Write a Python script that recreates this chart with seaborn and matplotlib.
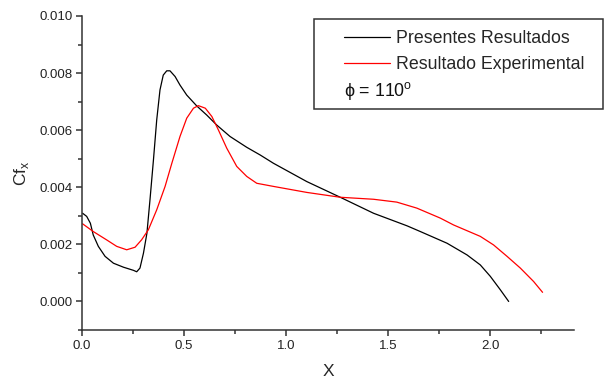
import pandas as pd
import matplotlib
matplotlib.use("Agg")
import matplotlib.pyplot as plt
from matplotlib.patches import Rectangle
from matplotlib.ticker import MultipleLocator
import seaborn as sns

sns.set_style("ticks")
plt.rcParams["font.family"] = ["Liberation Sans", "DejaVu Sans"]
plt.rcParams["mathtext.fontset"] = "custom"
plt.rcParams["mathtext.rm"] = "Liberation Sans"

# Presentes Resultados (black)
x_pres = [0.003, 0.023, 0.041, 0.055, 0.08, 0.113, 0.154, 0.203, 0.252, 0.268,
          0.284, 0.301, 0.318, 0.333, 0.35, 0.366, 0.382, 0.398, 0.415, 0.431,
          0.456, 0.48, 0.513, 0.562, 0.611, 0.66, 0.725, 0.807, 0.873, 0.938,
          1.101, 1.265, 1.428, 1.592, 1.657, 1.788, 1.886, 1.951, 2.0, 2.049, 2.09]
y_pres = [0.00309, 0.00298, 0.00274, 0.00233, 0.00193, 0.00158, 0.00134, 0.0012, 0.00109, 0.00104,
          0.00117, 0.00169, 0.00239, 0.00356, 0.00496, 0.00636, 0.00741, 0.00793, 0.00808, 0.00808,
          0.00788, 0.00758, 0.00723, 0.00685, 0.00653, 0.00618, 0.00578, 0.0054, 0.00513, 0.00484,
          0.0042, 0.00365, 0.00309, 0.00265, 0.00245, 0.00204, 0.00163, 0.00128, 0.00088, 0.00041, 0.0]

# Resultado Experimental (red)
x_exp = [0.003, 0.055, 0.12, 0.17, 0.219, 0.26, 0.292, 0.325, 0.366, 0.407,
         0.44, 0.48, 0.513, 0.546, 0.57, 0.604, 0.636, 0.668, 0.709, 0.758,
         0.807, 0.856, 0.938, 1.101, 1.265, 1.428, 1.542, 1.64, 1.755, 1.82,
         1.951, 2.016, 2.082, 2.147, 2.212, 2.256]
y_exp = [0.00272, 0.00245, 0.00216, 0.00193, 0.00181, 0.0019, 0.00216, 0.00251, 0.00321, 0.00403,
         0.00484, 0.00578, 0.00642, 0.00677, 0.00686, 0.00677, 0.00648, 0.00601, 0.00537, 0.00473,
         0.00438, 0.00414, 0.00403, 0.00382, 0.00365, 0.00358, 0.00348, 0.00327, 0.00292, 0.00268,
         0.00228, 0.00198, 0.00158, 0.00117, 0.0007, 0.00032]

labels = ["Presentes Resultados", "Resultado Experimental"]

df = pd.concat([
    pd.DataFrame({"X": x_pres, "Cf": y_pres, "serie": labels[0]}),
    pd.DataFrame({"X": x_exp, "Cf": y_exp, "serie": labels[1]}),
])

fig = plt.figure(figsize=(6.04, 3.78), dpi=100)
ax = fig.add_axes([82 / 604, 1 - 330 / 378, (574 - 82) / 604, (330 - 16) / 378])

sns.lineplot(data=df, x="X", y="Cf", hue="serie", sort=False,
             palette={labels[0]: "black", labels[1]: "#ff0000"},
             linewidth=0.9, ax=ax, legend=False)

ax.set_xlim(0, 2.41)
ax.set_ylim(-0.001, 0.010)
ax.xaxis.set_major_locator(MultipleLocator(0.5))
ax.xaxis.set_minor_locator(MultipleLocator(0.25))
ax.yaxis.set_major_locator(MultipleLocator(0.002))
ax.yaxis.set_minor_locator(MultipleLocator(0.001))
ax.xaxis.set_major_formatter(plt.FuncFormatter(lambda v, p: f"{v:.1f}"))
ax.yaxis.set_major_formatter(plt.FuncFormatter(lambda v, p: f"{v:.3f}"))

for s in ["top", "right"]:
    ax.spines[s].set_visible(False)
for s in ["left", "bottom"]:
    ax.spines[s].set_color("#333333")
    ax.spines[s].set_linewidth(1.1)
ax.tick_params(which="major", direction="out", length=4, width=1.1, color="#333333",
               labelsize=9.5, labelcolor="#222222", pad=3)
ax.tick_params(which="minor", direction="out", length=3, width=1.1, color="#333333")

ax.set_xlabel("X", fontsize=12.5, labelpad=9)
ax.set_ylabel(r"Cf$_{\mathrm{x}}$", fontsize=12.5, labelpad=6)

# legend box
fig.patches.append(Rectangle((314 / 604, 1 - 109 / 378), (603 - 314) / 604, 90 / 378,
                             transform=fig.transFigure, fill=False,
                             edgecolor="#333333", linewidth=1.1))
handles = ax.get_lines()[:2]
leg = ax.legend(handles, labels, loc="upper left",
                bbox_to_anchor=(344 / 604, 1 - 30 / 378), bbox_transform=fig.transFigure,
                frameon=False, borderpad=0, borderaxespad=0, fontsize=12.8,
                handlelength=2.6, handletextpad=0.35, labelspacing=0.5)
fig.text(344 / 604, 1 - 91 / 378, r"ϕ = 110$^{\mathrm{o}}$", fontsize=12.8,
         va="center", ha="left", color="#111111")

fig.savefig("out.png", dpi=100)
